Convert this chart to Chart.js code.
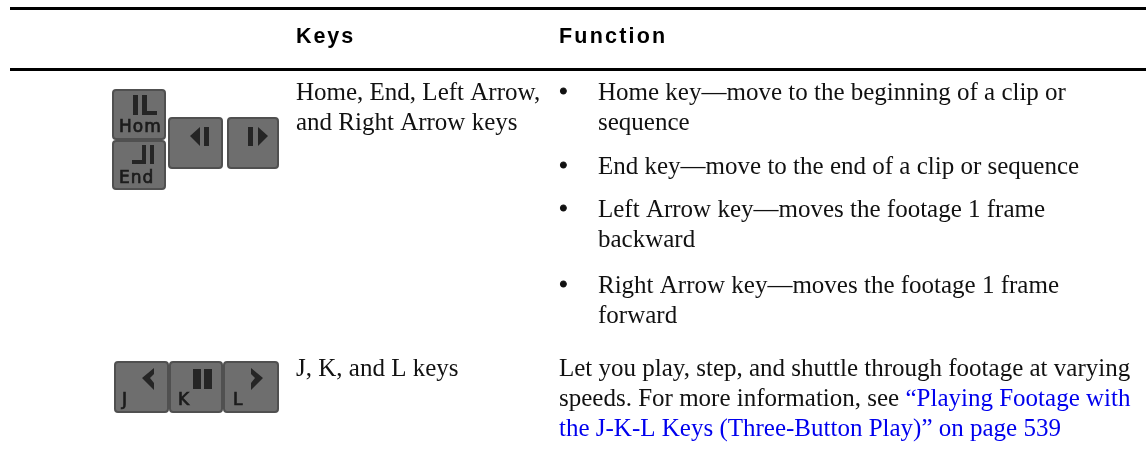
<!DOCTYPE html>
<html>
<head>
<meta charset="utf-8">
<title>Keys and functions</title>
<script src="https://cdn.jsdelivr.net/npm/chart.js@4"></script>
<style>
    html, body { margin: 0; padding: 0; background: #fff; }
    #wrap { width: 1146px; height: 454px; }
</style>
</head>
<body>
<div id="wrap"><canvas id="table" width="1146" height="454"></canvas></div>
<script>
// ─── Table content ────────────────────────────────────────────────
const headers = ['Keys', 'Function'];
const keyCells = ['Home, End, Left Arrow,', 'and Right Arrow keys', 'J, K, and L keys'];
const bullets = ['•', '•', '•', '•'];
const bulletLines = [
    'Home key—move to the beginning of a clip or',
    'sequence',
    'End key—move to the end of a clip or sequence',
    'Left Arrow key—moves the footage 1 frame',
    'backward',
    'Right Arrow key—moves the footage 1 frame',
    'forward',
];
const plainLines = [
    'Let you play, step, and shuttle through footage at varying',
    'speeds. For more information, see ',
];
const linkLines = ['“Playing Footage with', 'the J-K-L Keys (Three-Button Play)” on page 539'];
const capLabels = ['Hom', 'End', 'J', 'K', 'L'];

// ─── Layout (page pixels, the hidden scales map 1:1) ──────────────
const RULES = { from: 10, to: 1146, rows: [8.5, 69.5] };
const COL = { keys: 296, bullet: 559, head: 559, fn: 598, plain: 559 };
const HEADER_BASE = 43;
const KEY_BASE = [100, 130, 376];
const BULLET_BASE = [100, 174, 217, 293];
const LINE_BASE = [100, 130, 174, 217, 247, 293, 323];
const PLAIN_BASE = [376, 406, 436];

const SERIF = '25px "Liberation Serif"';
const HEAD = 'bold 21.5px "Liberation Sans"';

const CAPS = [
    [112, 89, 54, 51], [112, 140, 54, 50],
    [168, 117, 55, 52], [227, 117, 52, 52],
    [114, 361, 55, 52], [169, 361, 54, 52], [223, 361, 56, 52],
];
const GLYPHS = [
    [[133, 95], [138, 95], [138, 115], [133, 115]],
    [[142, 95], [147, 95], [147, 111], [157, 111], [157, 115], [142, 115]],
    [[142, 145], [146, 145], [146, 164], [132, 164], [132, 160], [142, 160]],
    [[150, 145], [154, 145], [154, 164], [150, 164]],
    [[190, 136], [200, 127], [200, 146]],
    [[204, 127], [209, 127], [209, 146], [204, 146]],
    [[248, 127], [253, 127], [253, 146], [248, 146]],
    [[258, 127], [268, 136], [258, 146]],
    [[142, 378], [154, 368], [154, 374], [150, 378], [154, 383], [154, 390]],
    [[193, 369], [201, 369], [201, 389], [193, 389]],
    [[204, 369], [212, 369], [212, 389], [204, 389]],
    [[263, 378], [251, 368], [251, 374], [255, 378], [251, 383], [251, 390]],
];
const CAP_TEXT = [
    [119, 132, '17px "DejaVu Sans"', '1px'],
    [119, 183, '17px "DejaVu Sans"', '1px'],
    [122, 405, '17px "DejaVu Sans"', '0px'],
    [178, 405, '17px "DejaVu Sans"', '0px'],
    [233, 405, '17px "DejaVu Sans"', '0px'],
];

// ─── Drawing helpers ──────────────────────────────────────────────
function putText(chart, text, x, y, font, color, spacing, weight) {
    const ctx = chart.ctx;
    const px = chart.scales.x.getPixelForValue(x);
    const py = chart.scales.y.getPixelForValue(y);
    ctx.font = font;
    ctx.fillStyle = color;
    ctx.letterSpacing = spacing || '0px';
    ctx.textBaseline = 'alphabetic';
    ctx.fillText(text, px, py);
    if (weight) {
        // no medium cut of the font, thicken the strokes a bit
        ctx.lineWidth = weight;
        ctx.strokeStyle = color;
        ctx.strokeText(text, px, py);
    }
    const w = ctx.measureText(text).width;
    ctx.letterSpacing = '0px';
    return w;
}

const tablePlugin = {
    id: 'tableText',
    afterDatasetsDraw(chart) {
        const ctx = chart.ctx;
        const sx = chart.scales.x, sy = chart.scales.y;
        ctx.save();

        // key caps, slightly soft like the scanned artwork
        ctx.filter = 'blur(0.6px)';
        CAPS.forEach(([x, y, w, h]) => {
            ctx.beginPath();
            ctx.roundRect(sx.getPixelForValue(x) + 1, sy.getPixelForValue(y) + 1, w - 2, h - 2, 3);
            ctx.fillStyle = '#6e6e6e';
            ctx.fill();
            ctx.lineWidth = 2;
            ctx.strokeStyle = '#505050';
            ctx.stroke();
        });
        ctx.fillStyle = '#252525';
        GLYPHS.forEach(poly => {
            ctx.beginPath();
            poly.forEach(([x, y], i) => {
                const px = sx.getPixelForValue(x), py = sy.getPixelForValue(y);
                i ? ctx.lineTo(px, py) : ctx.moveTo(px, py);
            });
            ctx.closePath();
            ctx.fill();
        });
        capLabels.forEach((label, i) => {
            const [x, y, font, spacing] = CAP_TEXT[i];
            putText(chart, label, x, y, font, '#1c1c1c', spacing, 0.7);
        });
        ctx.filter = 'none';

        // header row
        putText(chart, headers[0], COL.keys, HEADER_BASE, HEAD, '#000', '1.9px');
        putText(chart, headers[1], COL.head, HEADER_BASE, HEAD, '#000', '2.2px');

        // keys column
        keyCells.forEach((line, i) => putText(chart, line, COL.keys, KEY_BASE[i], SERIF, '#111'));

        // function column
        bullets.forEach((b, i) => putText(chart, b, COL.bullet, BULLET_BASE[i], SERIF, '#111', '0px', 1));
        bulletLines.forEach((line, i) => putText(chart, line, COL.fn, LINE_BASE[i], SERIF, '#111'));

        putText(chart, plainLines[0], COL.plain, PLAIN_BASE[0], SERIF, '#111');
        const w = putText(chart, plainLines[1], COL.plain, PLAIN_BASE[1], SERIF, '#111');
        putText(chart, linkLines[0], COL.plain + w, PLAIN_BASE[1], SERIF, '#0000ee');
        putText(chart, linkLines[1], COL.plain, PLAIN_BASE[2], SERIF, '#0000ee');

        ctx.restore();
    },
};

// ─── Chart ────────────────────────────────────────────────────────
new Chart(document.getElementById('table'), {
    type: 'scatter',
    data: {
        datasets: RULES.rows.map(y => ({
            data: [{ x: RULES.from, y }, { x: RULES.to, y }],
            showLine: true,
            borderColor: '#000',
            borderWidth: 3,
            pointRadius: 0,
        })),
    },
    options: {
        responsive: false,
        animation: false,
        layout: { padding: 0 },
        plugins: { legend: { display: false }, tooltip: { enabled: false } },
        scales: {
            x: { type: 'linear', min: 0, max: 1146, display: false },
            y: { type: 'linear', min: 0, max: 454, reverse: true, display: false },
        },
    },
    plugins: [tablePlugin],
});
</script>
</body>
</html>
